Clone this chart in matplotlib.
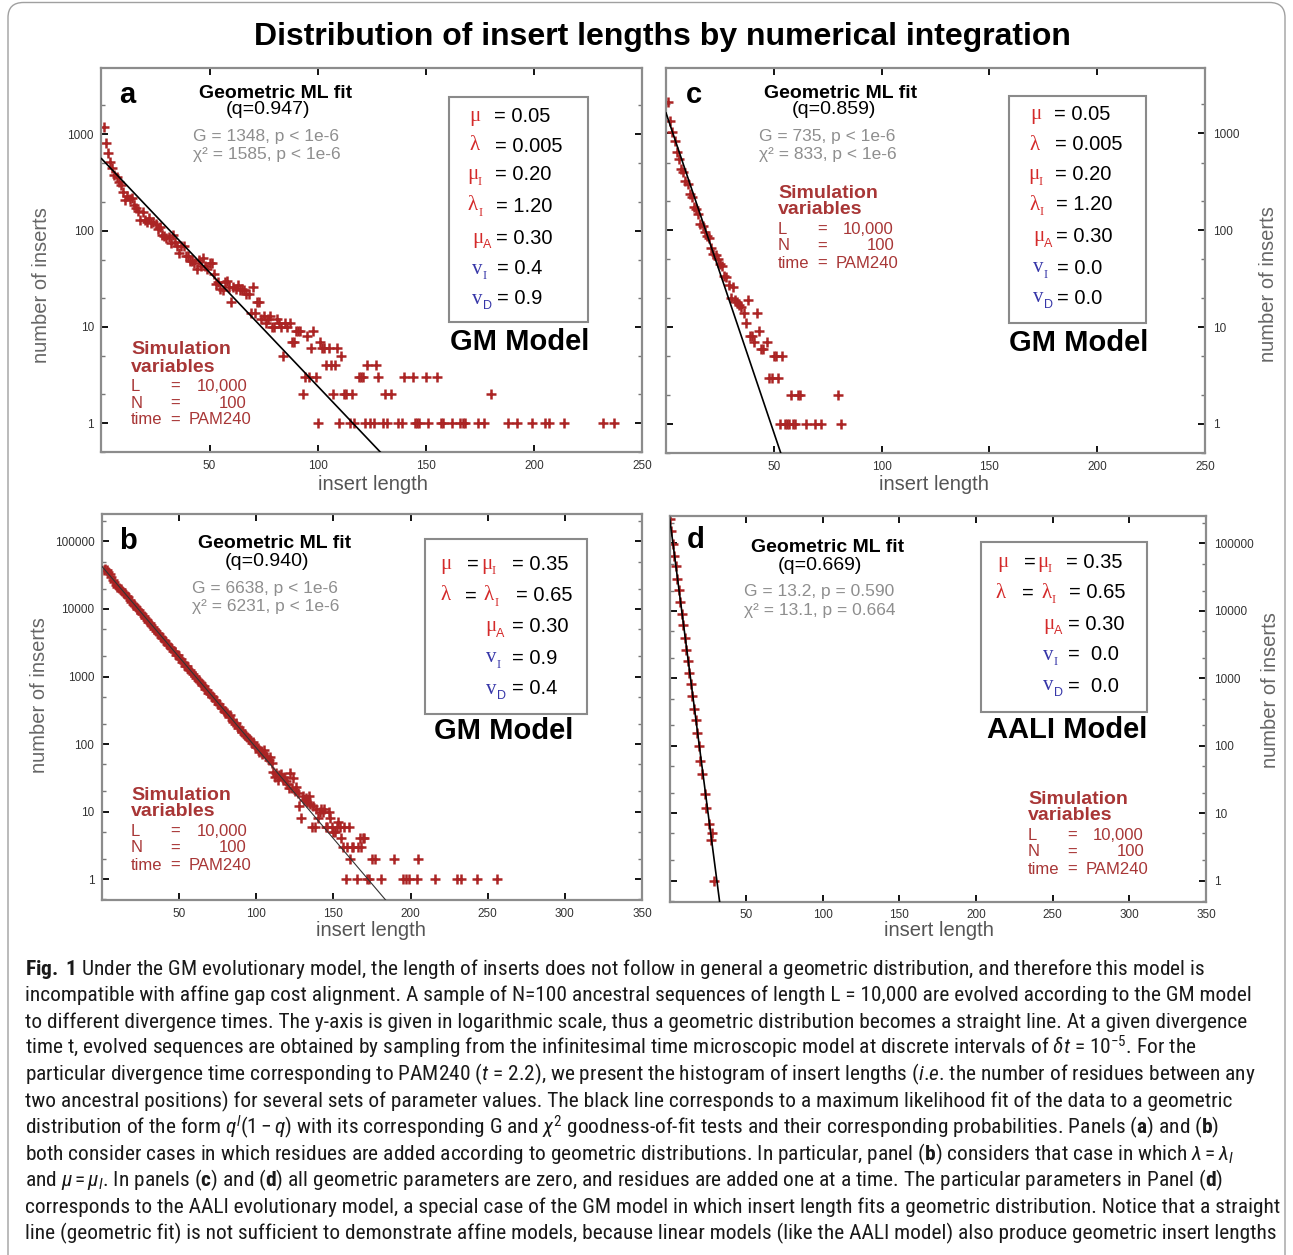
import numpy as np
import matplotlib
matplotlib.use('Agg')
import matplotlib.pyplot as plt
from matplotlib import font_manager as fm
from matplotlib.patches import FancyBboxPatch, Rectangle
from matplotlib.ticker import LogLocator, NullFormatter, FixedLocator, FuncFormatter

# ---------------- data ----------------
# panel a : GM model, q = 0.947
a_dense_counts = [1200, 820, 640, 520, 450, 380, 360, 320, 300, 255,
                  210, 230, 215, 218, 186, 172, 159, 130, 155, 130,
                  122, 135, 120, 122, 116, 104, 110, 91, 88, 84,
                  86, 74, 91, 77, 69, 58, 69, 69, 54, 54,
                  48, 48, 46, 40, 50, 43, 52, 43, 40, 46,
                  46, 35, 28, 29, 25, 24, 29, 30, 26, 18,
                  26, 25, 27, 24, 25, 24, 22, 22, 14, 26,
                  14, 18, 18, 12, 13, 11, 12, 13, 10, 10,
                  12, 11, 10, 5, 11, 10, 11, 7, 7, 9,
                  9, 9]
a_tail_len = [93, 94, 95, 96, 97, 98, 99, 100, 101, 102,
              103, 104, 105, 106, 107, 108, 109, 110, 111, 112,
              113, 115, 116, 117, 119, 120, 121, 122, 123, 124,
              126, 127, 128, 130, 131, 132, 134, 137, 139, 140,
              144, 145, 146, 147, 150, 151, 155, 157, 158, 162,
              166, 167, 168, 174, 177, 180, 188, 192, 199, 205,
              207, 214, 232, 237]
a_tail_cnt = [2, 3, 8, 3, 6, 9, 3, 1, 7, 6,
              6, 4, 6, 4, 2, 4, 6, 1, 5, 2,
              2, 1, 2, 1, 3, 3, 3, 1, 4, 1,
              1, 4, 3, 1, 2, 1, 2, 1, 1, 3,
              3, 1, 1, 1, 3, 1, 3, 1, 1, 1,
              1, 1, 1, 1, 1, 2, 1, 1, 1, 1,
              1, 1, 1, 1]

# panel b : GM model, q = 0.940
b_dense_counts = [38000, 39500, 38000, 35500, 32500, 29500, 27000, 25000, 23000, 21500,
                  20800, 19900, 18600, 17500, 16500, 15400, 14800, 13600, 12900, 12000,
                  11300, 10800, 10100, 9500, 8800, 8400, 7800, 7400, 6900, 6500,
                  6200, 5700, 5500, 5000, 4800, 4450, 4300, 3900, 3750, 3500,
                  3300, 3050, 2950, 2700, 2600, 2400, 2300, 2100, 2050, 1880,
                  1790, 1650, 1600, 1450, 1420, 1290, 1240, 1150, 1100, 1010,
                  960, 880, 860, 800, 740, 720, 650, 640, 570, 560,
                  510, 490, 450, 440, 390, 385, 350, 345, 310, 300,
                  290, 255, 270, 225, 215, 200, 205, 175, 180, 160,
                  152, 140, 135, 125, 118, 114, 104, 108, 95, 90,
                  86, 77, 80, 72, 81, 66, 65, 58, 65, 52,
                  39, 33, 37, 29, 35, 36, 30, 33, 28, 26,
                  22, 37, 22, 31, 20, 23, 19, 12, 8, 17,
                  15, 16, 14, 17, 13, 6, 12, 6, 11, 8,
                  10, 11, 10, 11, 6, 6, 10, 8, 6, 5,
                  5, 6, 7, 6, 4, 3, 6, 1, 3, 6,
                  2, 3, 3]
b_tail_len = [165, 166, 167, 168, 169, 170, 172, 173, 175, 177, 181,
              189, 195, 197, 199, 204, 205, 216, 230, 233, 243, 256]
b_tail_cnt = [1, 3, 4, 3, 4, 4, 1, 1, 2, 2, 1,
              2, 1, 1, 1, 1, 2, 1, 1, 1, 1, 1]

# panel c : GM model, q = 0.859
c_dense_counts = [2100, 1360, 1030, 845, 640, 546, 430, 397, 325, 300,
                  237, 219, 172, 166, 147, 116, 111, 95, 88, 84,
                  66, 57, 56, 50, 45, 43, 34, 33, 27, 20,
                  26, 19, 18, 17, 16, 14, 11, 19, 8, 8,
                  7, 14, 9, 6, 6]
c_tail_len = [47, 48, 49, 50, 51, 52, 53, 54, 55, 56, 57, 58, 59, 60, 61, 62, 65, 69, 72, 80, 81]
c_tail_cnt = [7, 3, 3, 5, 5, 3, 1, 5, 1, 1, 1, 2, 1, 1, 2, 2, 1, 1, 1, 2, 1]

# panel d : AALI model, q = 0.669
d_len = [0, 1, 2, 3, 4, 5, 6, 7, 8, 9, 10, 11, 12, 13, 14, 15, 16, 17, 18, 19, 20, 21,
         23, 24, 26, 27, 28, 29]
d_cnt = [230000, 155000, 98500, 66000, 45500, 29800, 20500, 13400, 9000, 6200, 3940,
         2590, 1800, 1200, 830, 545, 346, 238, 156, 98, 59, 38,
         19, 12, 7, 4, 5, 1]

# geometric ML fits (q and amplitude at length 0)
fit_q = {'a': 0.947, 'b': 0.940, 'c': 0.859, 'd': 0.669}
fit_amp = {'a': 560, 'b': 42700, 'c': 1630, 'd': 248000}
gtests = {'a': ('G = 1348, p < 1e-6', 'χ² = 1585, p < 1e-6'),
          'b': ('G = 6638, p < 1e-6', 'χ² = 6231, p < 1e-6'),
          'c': ('G = 735, p < 1e-6', 'χ² = 833, p < 1e-6'),
          'd': ('G = 13.2, p = 0.590', 'χ² = 13.1, p = 0.664')}

# ---------------- fonts ----------------
def has_font(name):
    try:
        fm.findfont(fm.FontProperties(family=[name]), fallback_to_default=False)
        return True
    except Exception:
        return False

BASE = 'Liberation Sans' if has_font('Liberation Sans') else 'DejaVu Sans'
SERIF = 'Liberation Serif' if has_font('Liberation Serif') else 'DejaVu Serif'
CAPF = BASE
for nm in ['Liberation Sans Narrow', 'Roboto Condensed', 'Open Sans Condensed', 'Noto Sans Condensed']:
    if has_font(nm):
        CAPF = nm
        break

plt.rcParams['font.family'] = [BASE, 'DejaVu Sans']
plt.rcParams['mathtext.fontset'] = 'custom'
plt.rcParams['mathtext.rm'] = CAPF
plt.rcParams['mathtext.it'] = CAPF + ':italic'
plt.rcParams['mathtext.bf'] = CAPF + ':bold'

W, H = 1293, 1255
fig = plt.figure(figsize=(W / 100, H / 100), dpi=100)

RED = '#d42a2a'
BLUE = '#3636a8'
DRED = '#a83636'
GRAY = '#8e8e8e'
MARK = '#ab2424'


def T(x, y, s, size, color='black', weight='normal', ha='left', va='center', family=None, **kw):
    kws = dict(fontsize=size, color=color, fontweight=weight, ha=ha, va=va)
    if family:
        kws['family'] = family
    kws.update(kw)
    return fig.text(x / W, 1 - y / H, s, **kws)


def px_axes(l, t, r, b):
    return fig.add_axes([l / W, 1 - b / H, (r - l) / W, (b - t) / H])


def style(ax, xmax, ylim, right):
    ax.set_yscale('log')
    ax.set_xlim(0, xmax)
    ax.set_ylim(*ylim)
    for s in ax.spines.values():
        s.set_color('#8c8c8c')
        s.set_linewidth(1.6)
    ax.xaxis.set_major_locator(FixedLocator(list(range(50, xmax + 1, 50))))
    ax.yaxis.set_major_locator(LogLocator(base=10, numticks=20))
    ax.yaxis.set_minor_locator(LogLocator(base=10, subs=(2, 5), numticks=20))
    ax.yaxis.set_minor_formatter(NullFormatter())
    ax.yaxis.set_major_formatter(FuncFormatter(lambda v, p: f'{int(round(v))}'))
    ax.tick_params(which='both', direction='in', top=True, bottom=True, left=True, right=True,
                   labelsize=8.5, labelcolor='#333333', pad=5.5)
    ax.tick_params(which='major', length=5, width=1.3, color='black')
    ax.tick_params(which='minor', length=3, width=1.0, color='#777777')
    if right:
        ax.tick_params(labelleft=False, labelright=True)


def draw(ax, xs, ys, key, xmax, lw=1.2, lc='black'):
    ax.plot(xs, ys, linestyle='none', marker='+', color=MARK, ms=6.5, mew=1.8, zorder=2)
    xx = np.linspace(0, xmax, 600)
    ax.plot(xx, fit_amp[key] * fit_q[key] ** xx, color=lc, lw=lw, zorder=3)


ax_a = px_axes(101.5, 68, 642, 452)
ax_c = px_axes(666, 67.5, 1205, 453)
ax_b = px_axes(102, 514, 642, 900)
ax_d = px_axes(669.5, 516, 1206, 901.5)

len_a = list(np.arange(1, len(a_dense_counts) + 1)) + a_tail_len
cnt_a = a_dense_counts + a_tail_cnt
len_b = list(np.arange(1, len(b_dense_counts) + 1)) + b_tail_len
cnt_b = b_dense_counts + b_tail_cnt
len_c = list(np.arange(1, len(c_dense_counts) + 1)) + c_tail_len
cnt_c = c_dense_counts + c_tail_cnt

style(ax_a, 250, (0.5, 4900), False)
style(ax_c, 250, (0.5, 4800), True)
style(ax_b, 350, (0.49, 255000), False)
style(ax_d, 350, (0.49, 255000), True)

draw(ax_a, len_a, cnt_a, 'a', 250)
draw(ax_c, len_c, cnt_c, 'c', 250)
draw(ax_b, len_b, cnt_b, 'b', 350, lw=0.8, lc='#333333')
draw(ax_d, d_len, d_cnt, 'd', 350)

# ---------------- title & frame ----------------
T(662, 37, 'Distribution of insert lengths by numerical integration', 23, weight='bold', ha='center')
frame = FancyBboxPatch((8 / W, -0.02), (1285 - 8) / W, 1.02 - 2.5 / H,
                       boxstyle='round,pad=0,rounding_size=0.012', transform=fig.transFigure,
                       fc='none', ec='#a0a0a0', lw=1.0)
fig.add_artist(frame)

# axis labels
for (x, y) in [(373, 484), (934, 484), (371, 930), (939, 931)]:
    T(x, y, 'insert length', 14.5, '#555555', ha='center')
for (x, y) in [(42, 285), (40, 695), (1268, 284), (1270, 690)]:
    T(x, y, 'number of inserts', 14.5, '#666666', ha='center', rotation=90)

# panel letters
for (x, y, s) in [(127, 95, 'a'), (694, 95, 'c'), (128, 541, 'b'), (696, 540, 'd')]:
    T(x, y, s, 21, weight='bold', ha='center')


def fitblock(key, cx1, y1, cx2, y2, gx, gy):
    T(cx1, y1, 'Geometric ML fit', 14, weight='bold', ha='center')
    T(cx2, y2, f'(q={fit_q[key]:.3f})', 14, ha='center')
    T(gx, gy, gtests[key][0], 12.5, GRAY)
    T(gx, gy + 18.5, gtests[key][1], 12.5, GRAY)


fitblock('a', 276, 93, 268, 110, 193, 136.5)
fitblock('c', 841, 93, 834, 110, 759, 136.5)
fitblock('b', 275, 544, 267.5, 562, 192, 588)
fitblock('d', 828, 547.5, 820, 565, 744, 591.5)


def simvars(x0, y0):
    T(x0, y0, 'Simulation', 14, DRED, 'bold')
    T(x0, y0 + 17, 'variables', 14, DRED, 'bold')
    rows = [('L', '10,000', 'r'), ('N', '100', 'r'), ('time', 'PAM240', 'l')]
    for i, (k, v, al) in enumerate(rows):
        y = y0 + 36 + i * 17
        T(x0, y, k, 12, DRED)
        T(x0 + 39, y, '=', 12, DRED)
        if al == 'r':
            T(x0 + 116, y, v, 12, DRED, ha='right')
        else:
            T(x0 + 58, y, v, 12, DRED)


simvars(131, 350)
simvars(131, 795)
simvars(778, 193)
simvars(1028, 799)

# parameter boxes
for (l, t, r, b) in [(449, 97, 588, 322), (1009, 96, 1146, 323), (425, 539, 587, 714), (981, 542, 1147, 712)]:
    fig.add_artist(Rectangle((l / W, 1 - b / H), (r - l) / W, (b - t) / H, transform=fig.transFigure,
                             fc='none', ec='#8a8a8a', lw=1.5))


def sym(x, y, s, sub, color):
    T(x, y, s, 15, color, family=SERIF)
    if sub:
        T(x + 11, y + 7, sub, 9, color, family=SERIF if sub == 'I' else None)


def val(x, y, s):
    T(x, y, s, 14.5)


# panel a / c parameter list
gm_rows_a = [('μ', None, RED, '= 0.05'), ('λ', None, RED, '= 0.005'), ('μ', 'I', RED, '= 0.20'),
             ('λ', 'I', RED, '= 1.20'), ('μ', 'A', RED, '= 0.30'), ('v', 'I', BLUE, '= 0.4'),
             ('v', 'D', BLUE, '= 0.9')]
gm_rows_c = [('μ', None, RED, '= 0.05'), ('λ', None, RED, '= 0.005'), ('μ', 'I', RED, '= 0.20'),
             ('λ', 'I', RED, '= 1.20'), ('μ', 'A', RED, '= 0.30'), ('v', 'I', BLUE, '= 0.0'),
             ('v', 'D', BLUE, '= 0.0')]
sx_a = [469, 469, 467, 468, 472, 472, 472]
vx_a = [494, 495, 495, 496, 496, 497, 497]
ys_a = [116, 146, 175, 206, 238, 269, 299]
for i, (s, sub, col, v) in enumerate(gm_rows_a):
    sym(sx_a[i], ys_a[i], s, sub, col)
    val(vx_a[i], ys_a[i], v)
ys_c = [115, 145, 175, 205, 237, 268, 298]
for i, (s, sub, col, v) in enumerate(gm_rows_c):
    sym(sx_a[i] + 561, ys_c[i], s, sub, col)
    val(vx_a[i] + 560, ys_c[i], v)

# panel b
sym(440, 564, 'μ', None, RED); val(467, 564, '='); sym(481, 564, 'μ', 'I', RED); val(512, 564, '= 0.35')
sym(440, 596, 'λ', None, RED); val(465, 596, '='); sym(484, 596, 'λ', 'I', RED); val(516, 596, '= 0.65')
sym(485, 627, 'μ', 'A', RED); val(512, 627, '= 0.30')
sym(486, 658, 'v', 'I', BLUE); val(512, 658, '= 0.9')
sym(486, 689, 'v', 'D', BLUE); val(512, 689, '= 0.4')

# panel d
sym(997, 562, 'μ', None, RED); val(1024, 562, '='); sym(1037, 562, 'μ', 'I', RED); val(1066, 562, '= 0.35')
sym(995, 593, 'λ', None, RED); val(1022, 593, '='); sym(1041, 593, 'λ', 'I', RED); val(1069, 593, '= 0.65')
sym(1043, 624, 'μ', 'A', RED); val(1068, 624, '= 0.30')
sym(1043, 655, 'v', 'I', BLUE); val(1068, 655, '=  0.0')
sym(1043, 686, 'v', 'D', BLUE); val(1068, 686, '=  0.0')

# model names
T(520, 342, 'GM Model', 21, weight='bold', ha='center')
T(1079, 343, 'GM Model', 21, weight='bold', ha='center')
T(504, 731, 'GM Model', 21, weight='bold', ha='center')
T(1067, 730, 'AALI Model', 21, weight='bold', ha='center')

# ---------------- caption ----------------
caption_lines = [
    r"$\mathbf{Fig.\ 1}$ Under the GM evolutionary model, the length of inserts does not follow in general a geometric distribution, and therefore this model is",
    "incompatible with affine gap cost alignment. A sample of N=100 ancestral sequences of length L = 10,000 are evolved according to the GM model",
    "to different divergence times. The y-axis is given in logarithmic scale, thus a geometric distribution becomes a straight line. At a given divergence",
    r"time t, evolved sequences are obtained by sampling from the infinitesimal time microscopic model at discrete intervals of $\delta t$ = 10$^{-5}$. For the",
    r"particular divergence time corresponding to PAM240 ($t$ = 2.2), we present the histogram of insert lengths ($i$.$e$. the number of residues between any",
    "two ancestral positions) for several sets of parameter values. The black line corresponds to a maximum likelihood fit of the data to a geometric",
    r"distribution of the form $q^l(1-q)$ with its corresponding G and $\chi^2$ goodness-of-fit tests and their corresponding probabilities. Panels ($\mathbf{a}$) and ($\mathbf{b}$)",
    r"both consider cases in which residues are added according to geometric distributions. In particular, panel ($\mathbf{b}$) considers that case in which $\lambda = \lambda_I$",
    r"and $\mu = \mu_I$. In panels ($\mathbf{c}$) and ($\mathbf{d}$) all geometric parameters are zero, and residues are added one at a time. The particular parameters in Panel ($\mathbf{d}$)",
    "corresponds to the AALI evolutionary model, a special case of the GM model in which insert length fits a geometric distribution. Notice that a straight",
    "line (geometric fit) is not sufficient to demonstrate affine models, because linear models (like the AALI model) also produce geometric insert lengths",
]
cap_texts = []
for i, s in enumerate(caption_lines):
    t = fig.text(25 / W, 1 - (975 + 26.45 * i) / H, s, fontsize=13, family=[CAPF, 'DejaVu Sans'],
                 color='#1a1a1a', va='baseline', ha='left')
    cap_texts.append(t)
fig.canvas.draw()
rend = fig.canvas.get_renderer()
w10 = cap_texts[9].get_window_extent(rend).width
scale = 1253.0 / w10
maxw = max(t.get_window_extent(rend).width for t in cap_texts) * scale
if maxw > 1262:
    scale *= 1262.0 / maxw
for t in cap_texts:
    t.set_fontsize(13 * scale)

fig.savefig('out.png', dpi=100)
